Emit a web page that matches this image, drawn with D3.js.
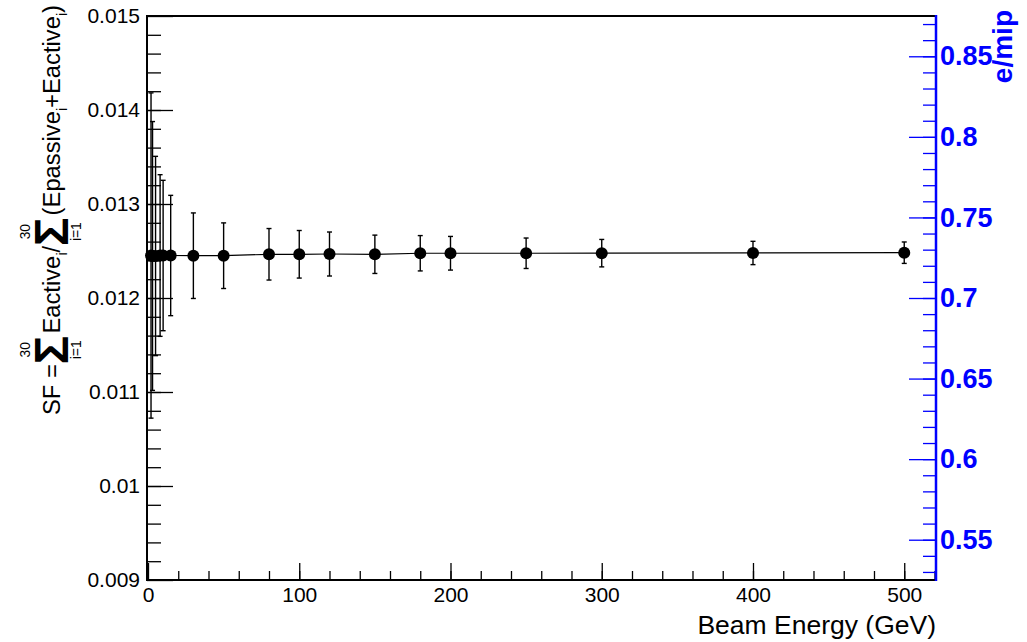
<!DOCTYPE html>
<html lang="en">
<head>
<meta charset="UTF-8">
<title>Sampling fraction vs beam energy</title>
<script src="https://d3js.org/d3.v7.min.js"></script>
<style>
  body { margin: 0; background: #fff; }
  svg { font-family: "Liberation Sans", Arial, Helvetica, sans-serif; }
  .frame { fill: none; stroke: #000; stroke-width: 2; }
  .lab text { font-size: 21px; fill: #000; }
  .blue text { font-size: 27px; font-weight: bold; fill: #0000ff; }
</style>
</head>
<body>
<svg id="chart" width="1027" height="642"></svg>
<script>
// beam energy (GeV)
let energies = [2, 3, 5, 8, 10, 15, 30, 50, 80, 100, 120, 150, 180, 200, 250, 300, 400, 500];
// sampling fraction and its error
let sf = [0.012452, 0.012447, 0.012447, 0.012452, 0.012452, 0.012452, 0.01245, 0.01245, 0.012465,
          0.012465, 0.012468, 0.012465, 0.012476, 0.012476, 0.012476, 0.012477, 0.012479, 0.012482];
let sfErr = [0.00173, 0.00143, 0.00106, 0.00086, 0.0008, 0.00064, 0.000455, 0.000349, 0.000274,
             0.000253, 0.000234, 0.000204, 0.000188, 0.000179, 0.000162, 0.000146, 0.000124, 0.000114];

let xTicks = [0, 100, 200, 300, 400, 500];
let xMinor = d3.range(20, 521, 20);
let yTicks = [0.009, 0.01, 0.011, 0.012, 0.013, 0.014, 0.015];
let yMinor = d3.range(0.0092, 0.0150, 0.0002);
let emipTicks = [0.55, 0.6, 0.65, 0.7, 0.75, 0.8, 0.85];
let emipMinor = d3.range(0.53, 0.875, 0.01);

let svg = d3.select("#chart");
let pLeft = 147, pRight = 936, pTop = 16, pBottom = 580;

let x = d3.scaleLinear().domain([0, 521]).range([148, pRight]);
let y = d3.scaleLinear().domain([0.009, 0.015]).range([pBottom, pTop]);
let yR = d3.scaleLinear().domain([0.525, 0.875]).range([pBottom, pTop]);

// left axis
let gl = svg.append("g").attr("class", "lab").attr("transform", `translate(${pLeft},0)`);
gl.call(d3.axisLeft(y).tickValues(yMinor).tickSizeInner(-14).tickSizeOuter(0).tickFormat(""));
gl.append("g").call(d3.axisLeft(y).tickValues(yTicks).tickSizeInner(-26).tickSizeOuter(0)
    .tickPadding(7).tickFormat(d3.format("~g")));
gl.selectAll(".domain").remove();
gl.selectAll("line").attr("stroke", "#000").attr("stroke-width", 1.3);

// bottom axis
let gb = svg.append("g").attr("class", "lab").attr("transform", `translate(0,${pBottom})`);
gb.call(d3.axisBottom(x).tickValues(xMinor).tickSizeInner(-9).tickSizeOuter(0).tickFormat(""));
gb.append("g").call(d3.axisBottom(x).tickValues(xTicks).tickSizeInner(-17).tickSizeOuter(0)
    .tickPadding(7).tickFormat(d3.format("d")));
gb.selectAll(".domain").remove();
gb.selectAll("line").attr("stroke", "#000").attr("stroke-width", 1.3);

// frame
svg.append("path").attr("class", "frame")
    .attr("d", `M${pRight},${pTop}H${pLeft}V${pBottom}H${pRight}`);

// right axis (e/mip)
let gr = svg.append("g").attr("class", "blue").attr("transform", `translate(${pRight},0)`);
gr.call(d3.axisRight(yR).tickValues(emipMinor).tickSizeInner(-13).tickSizeOuter(0).tickFormat(""));
gr.append("g").call(d3.axisRight(yR).tickValues(emipTicks).tickSizeInner(-27).tickSizeOuter(0)
    .tickPadding(4).tickFormat(d3.format("~g")));
gr.selectAll(".domain").remove();
gr.selectAll("line").attr("stroke", "#0000ff").attr("stroke-width", 1.3);
gr.append("line").attr("y1", pTop - 1).attr("y2", pBottom + 1)
    .attr("stroke", "#0000ff").attr("stroke-width", 2.5);

svg.append("text").attr("transform", "translate(1012,10) rotate(-90)")
    .attr("text-anchor", "end").style("font-size", "28px").style("font-weight", "bold")
    .style("fill", "#0000ff").text("e/mip");

// x title
svg.append("text").attr("x", pRight).attr("y", 634).attr("text-anchor", "end")
    .style("font-size", "26.5px").text("Beam Energy (GeV)");

// y title, written along a rotated baseline piece by piece
let yt = svg.append("g").attr("transform", "translate(60,415) rotate(-90)");
let inner = yt.append("g");
let u = 0;
function piece(str, size, v, bold) {
    let t = inner.append("text").attr("x", u).attr("y", v).style("font-size", size + "px").text(str);
    if (bold) t.style("font-weight", "bold");
    return t.node().getComputedTextLength();
}
function sigma() {
    let w = piece("\u03A3", 48, 8, true);
    let c = u + w / 2;
    inner.append("text").attr("x", c).attr("y", -30).attr("text-anchor", "middle")
        .style("font-size", "14px").text("30");
    inner.append("text").attr("x", c).attr("y", 21).attr("text-anchor", "middle")
        .style("font-size", "14px").text("i=1");
    u += w + 2;
}
u += piece("SF = ", 24, 0);
sigma();
u += piece("Eactive", 24, 0);
u += piece("i", 14, 7);
u += piece("/", 24, 0);
sigma();
u += piece("(Epassive", 24, 0);
u += piece("i", 14, 7);
u += piece("+Eactive", 24, 0);
u += piece("i", 14, 7);
u += piece(")", 24, 0);
inner.attr("transform", `scale(${410 / u},1)`);

// data
let pts = energies.map((e, i) => ({e: e, v: sf[i], err: sfErr[i]}));

svg.append("path").datum(pts)
    .attr("fill", "none").attr("stroke", "#000").attr("stroke-width", 1.2)
    .attr("d", d3.line().x(d => x(d.e)).y(d => y(d.v)));

let eb = svg.append("g").attr("stroke", "#000").attr("stroke-width", 1.4);
eb.selectAll(".bar").data(pts).join("line")
    .attr("x1", d => x(d.e)).attr("x2", d => x(d.e))
    .attr("y1", d => y(d.v + d.err)).attr("y2", d => y(d.v - d.err));
eb.selectAll(".capT").data(pts).join("line")
    .attr("x1", d => x(d.e) - 2.5).attr("x2", d => x(d.e) + 2.5)
    .attr("y1", d => y(d.v + d.err)).attr("y2", d => y(d.v + d.err));
eb.selectAll(".capB").data(pts).join("line")
    .attr("x1", d => x(d.e) - 2.5).attr("x2", d => x(d.e) + 2.5)
    .attr("y1", d => y(d.v - d.err)).attr("y2", d => y(d.v - d.err));

svg.append("g").selectAll("circle").data(pts).join("circle")
    .attr("cx", d => x(d.e)).attr("cy", d => y(d.v)).attr("r", 6).attr("fill", "#000");
</script>
</body>
</html>
